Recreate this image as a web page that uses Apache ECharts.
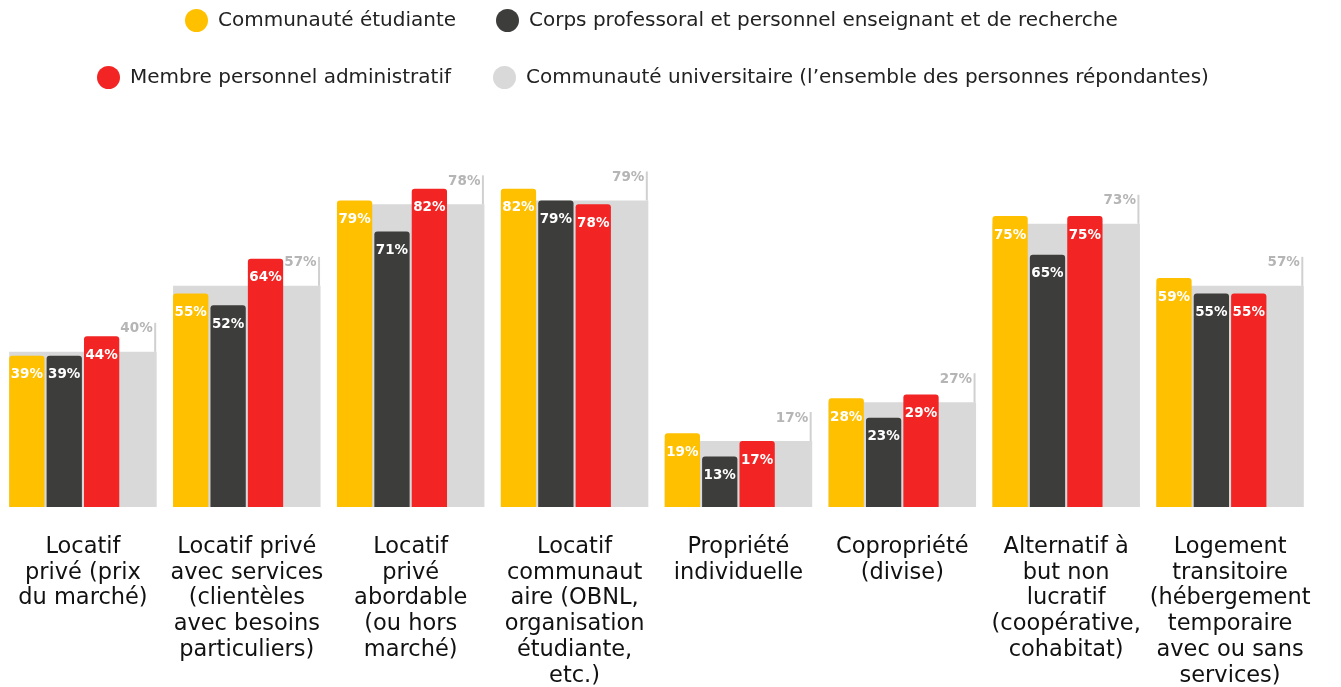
<!DOCTYPE html>
<html><head><meta charset="utf-8">
<script src="https://cdn.jsdelivr.net/npm/echarts@6/dist/echarts.min.js"></script>
<style>html,body{margin:0;padding:0;background:#fff}#c{width:1341px;height:687px}</style>
</head><body><div id="c"></div>
<script>
const categories = [
  'Locatif\nprivé (prix\ndu marché)',
  'Locatif privé\navec services\n(clientèles\navec besoins\nparticuliers)',
  'Locatif\nprivé\nabordable\n(ou hors\nmarché)',
  'Locatif\ncommunaut\naire (OBNL,\norganisation\nétudiante,\netc.)',
  'Propriété\nindividuelle',
  'Copropriété\n(divise)',
  'Alternatif à\nbut non\nlucratif\n(coopérative,\ncohabitat)',
  'Logement\ntransitoire\n(hébergement\ntemporaire\navec ou sans\nservices)'
];
const seriesNames = [
  'Communauté étudiante',
  'Corps professoral et personnel enseignant et de recherche',
  'Membre personnel administratif',
  'Communauté universitaire (l’ensemble des personnes répondantes)'
];
const etudiante = [39, 55, 79, 82, 19, 28, 75, 59];
const professoral = [39, 52, 71, 79, 13, 23, 65, 55];
const administratif = [44, 64, 82, 78, 17, 29, 75, 55];
const universitaire = [40, 57, 78, 79, 17, 27, 73, 57];
const colors = ['#FFC000', '#3d3d3b', '#F22424', '#D9D9D9'];

const FONT = 'DejaVu Sans';
const chart = echarts.init(document.getElementById('c'));

const colLabel = {
  show: true, position: 'insideTop', distance: 12, color: '#fff',
  fontWeight: 'bold', fontSize: 13.5, fontFamily: FONT, formatter: '{c}%'
};
function colored(i, data) {
  return {
    type: 'bar', name: seriesNames[i], data: data, xAxisIndex: 0,
    barGap: '6%', barCategoryGap: '10%', z: 3,
    itemStyle: { color: colors[i], borderRadius: [3, 3, 0, 0] },
    label: colLabel
  };
}
function legend(i, left, top) {
  return {
    data: [{ name: seriesNames[i], itemStyle: { color: colors[i] } }],
    left: left, top: top, icon: 'circle', itemWidth: 23, itemHeight: 23,
    textStyle: { fontSize: 20, fontFamily: FONT, color: '#222', padding: [0, 0, 0, 5] },
    selectedMode: false
  };
}

chart.setOption({
  animation: false,
  legend: [legend(0, 180, 4), legend(1, 491, 4), legend(2, 92, 61), legend(3, 488, 61)],
  grid: { left: 1, right: 29, top: 119, bottom: 180, containLabel: false, outerBoundsMode: 'none' },
  xAxis: [{
    type: 'category', data: categories,
    axisLine: { show: false }, axisTick: { show: false },
    axisLabel: { interval: 0, fontSize: 22.5, lineHeight: 25.8, margin: 27, color: '#111', fontFamily: FONT }
  }, {
    type: 'category', data: categories, show: false
  }],
  yAxis: { type: 'value', min: 0, max: 100, show: false },
  series: [
    {
      type: 'custom', name: seriesNames[3], xAxisIndex: 1, z: 1,
      itemStyle: { color: colors[3] },
      data: universitaire.map((v, i) => [i, v]),
      renderItem: function (params, api) {
        const idx = api.value(0), v = api.value(1);
        const top = api.coord([idx, v]);
        const base = api.coord([idx, 0]);
        const band = api.size([1, 0])[0];
        const w = band * 0.9;
        const x0 = top[0] - w / 2, x1 = top[0] + w / 2;
        return {
          type: 'group',
          children: [
            { type: 'rect', shape: { x: x0, y: top[1], width: w, height: base[1] - top[1] },
              style: { fill: colors[3] } },
            { type: 'line', shape: { x1: x1 - 1.5, y1: top[1] - 29, x2: x1 - 1.5, y2: top[1] },
              style: { stroke: '#d0d0d0', lineWidth: 2 } },
            { type: 'text', style: { text: v + '%', x: x1 - 4, y: top[1] - 23, align: 'right',
              verticalAlign: 'middle', fill: '#b5b5b5', font: 'bold 13.5px "' + FONT + '"' } }
          ]
        };
      }
    },
    colored(0, etudiante),
    colored(1, professoral),
    colored(2, administratif),
    { type: 'bar', name: '_spacer', data: [], xAxisIndex: 0, barGap: '6%', barCategoryGap: '10%' }
  ]
});
</script></body></html>
